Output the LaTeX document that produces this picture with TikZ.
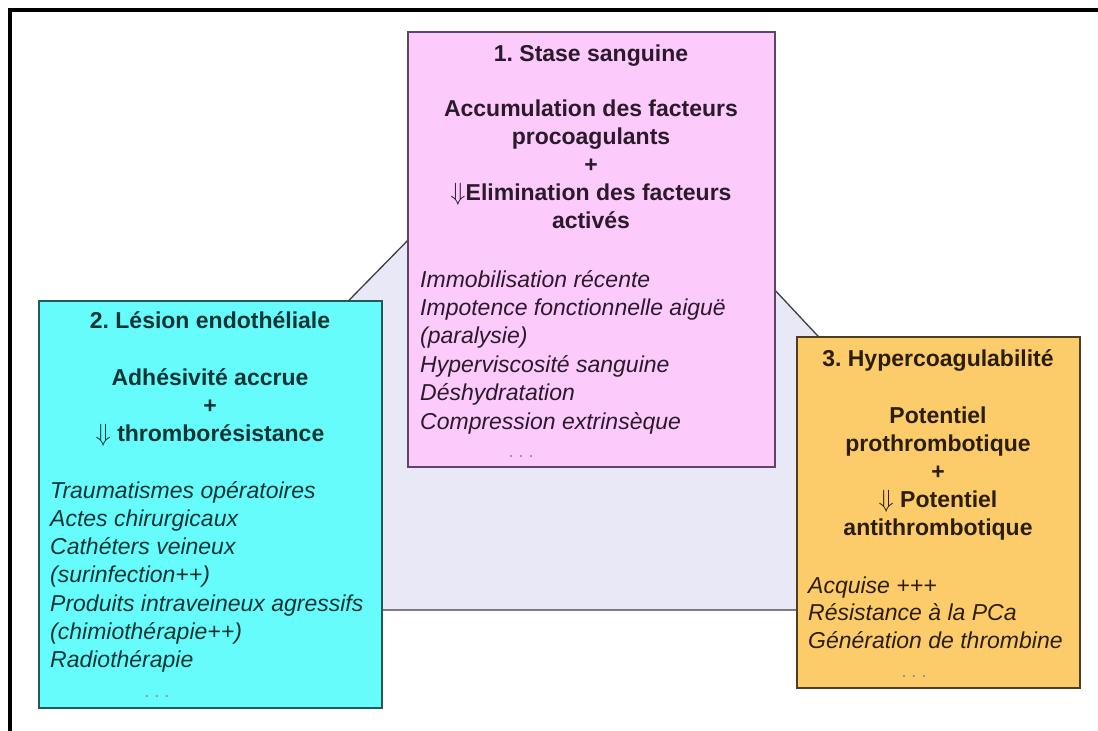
\documentclass[tikz,border=0pt]{standalone}
\usepackage{fontspec}
\setmainfont{Liberation Sans}
\frenchspacing
\definecolor{pinkfill}{HTML}{FDCBFB}
\definecolor{pinkline}{HTML}{5E4662}
\definecolor{pinktext}{HTML}{2A1A2C}
\definecolor{cyanfill}{HTML}{66FCFC}
\definecolor{cyanline}{HTML}{215A5A}
\definecolor{cyantext}{HTML}{0E3434}
\definecolor{orfill}{HTML}{FDCC6A}
\definecolor{orline}{HTML}{4E3E20}
\definecolor{ortext}{HTML}{2A1E08}
\definecolor{trifill}{HTML}{E8E8F7}
\definecolor{triline}{HTML}{3C3C4A}
\tikzset{
  x=1pt, y=-1pt,
  panel/.style={draw, line width=1.6pt, inner sep=0pt, outer sep=0pt},
  txt/.style={font=\fontsize{23}{28}\selectfont, inner sep=0pt, anchor=base},
  bl/.style={txt, font=\fontsize{23}{28}\selectfont\bfseries},
  it/.style={txt, anchor=base west, font=\fontsize{23}{28}\selectfont\itshape},
  dots/.style={inner sep=0pt, anchor=base, font=\fontsize{18}{20}\selectfont, text=gray!90},
}
\begin{document}
\begin{tikzpicture}
\useasboundingbox (0,0) rectangle (1098,731);
\fill[white] (0,0) rectangle (1098,731);
% frame
\draw[line width=3.6pt] (10,731) -- (10,10) -- (1098,10);
% background triangle
\coordinate (tl) at (45,610);
\coordinate (tr) at (1074,610);
\coordinate (tt) at (572,73);
\draw[fill=trifill, draw=triline, line width=1.3pt] (tl) -- (tt) -- (tr) -- cycle;
% panels
\node[panel, fill=pinkfill, draw=pinkline, minimum width=367pt, minimum height=435pt] (pink) at (591.5,249.5) {};
\node[panel, fill=cyanfill, draw=cyanline, minimum width=343pt, minimum height=407pt] (cyan) at (210.5,504.5) {};
\node[panel, fill=orfill, draw=orline, minimum width=283pt, minimum height=351pt] (orange) at (938.5,512.5) {};
% pink panel text
\begin{scope}[text=pinktext]
\node[bl] (ptitle) at (591,61) {1. Stase sanguine};
\foreach \t [count=\i] in {Accumulation des facteurs, procoagulants, +, $\Downarrow$Elimination des facteurs, activés}
  \node[bl] (pb\i) at ({591},{116+28*(\i-1)}) {\t};
\foreach \t [count=\i] in {Immobilisation récente, Impotence fonctionnelle aiguë, (paralysie), Hyperviscosité sanguine, Déshydratation, Compression extrinsèque}
  \node[it] (pl\i) at ({420},{287+28.4*(\i-1)}) {\t};
\node[dots] (pdots) at (521,457) {. . .};
\end{scope}
% cyan panel text
\begin{scope}[text=cyantext]
\node[bl] (ctitle) at (210,328) {2. Lésion endothéliale};
\foreach \t [count=\i] in {Adhésivité accrue, +, $\Downarrow$ thromborésistance}
  \node[bl] (cb\i) at ({210},{385+28*(\i-1)}) {\t};
\foreach \t [count=\i] in {Traumatismes opératoires, Actes chirurgicaux, Cathéters veineux, (surinfection++), Produits intraveineux agressifs, (chimiothérapie++), Radiothérapie}
  \node[it] (cl\i) at ({50},{498+28.3*(\i-1)}) {\t};
\node[dots] (cdots) at (157,697) {. . .};
\end{scope}
% orange panel text
\begin{scope}[text=ortext]
\node[bl] (otitle) at (938,366) {3. Hypercoagulabilité};
\foreach \t [count=\i] in {Potentiel, prothrombotique, +, $\Downarrow$ Potentiel, antithrombotique}
  \node[bl] (ob\i) at ({938},{423+28*(\i-1)}) {\t};
\foreach \t [count=\i] in {Acquise +++, Résistance à la PCa, Génération de thrombine}
  \node[it] (ol\i) at ({808},{593+27.5*(\i-1)}) {\t};
\node[dots] (odots) at (914,677) {. . .};
\end{scope}
\end{tikzpicture}
\end{document}
